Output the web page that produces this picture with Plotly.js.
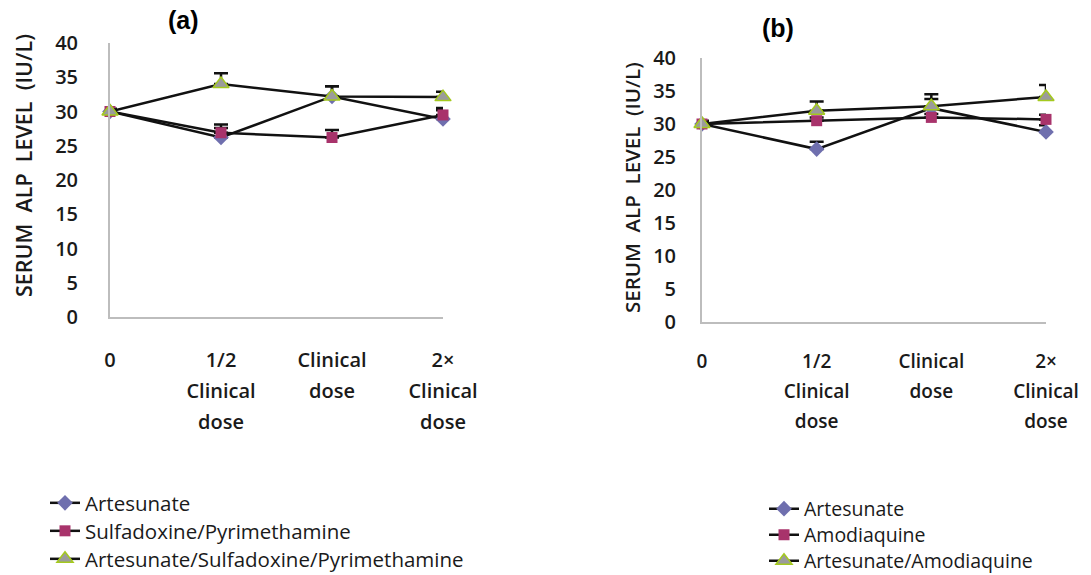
<!DOCTYPE html>
<html>
<head>
<meta charset="utf-8">
<script src="https://cdn.plot.ly/plotly-3.0.1.min.js"></script>
<style>html,body{margin:0;padding:0;background:#fff;}#chart{width:1091px;height:575px;}</style>
</head>
<body>
<div id="chart"></div>
<script>
// ---- data ----
const categories = ['0', '1/2<br>Clinical<br>dose', 'Clinical<br>dose', '2×<br>Clinical<br>dose'];

// Panel (a)
const namesA = ['Artesunate', 'Sulfadoxine/Pyrimethamine', 'Artesunate/Sulfadoxine/Pyrimethamine'];
const artesunateA = [30, 26.2, 32.2, 28.9];
const artesunateErrA = [0.4, 1.4, 1.5, 1.3];
const spA = [30, 26.9, 26.2, 29.5];
const spErrA = [0.3, 1.2, 1.1, 1.0];
const aspA = [30, 34.0, 32.2, 32.1];
const aspErrA = [0.3, 1.6, 1.5, 0.8];

// Panel (b)
const namesB = ['Artesunate', 'Amodiaquine', 'Artesunate/Amodiaquine'];
const artesunateB = [30, 26.2, 32.4, 28.8];
const artesunateErrB = [0.3, 1.1, 1.4, 1.0];
const amodiaquineB = [30, 30.5, 31.0, 30.7];
const amodiaquineErrB = [0.5, 0.5, 0.5, 0.7];
const aaB = [30, 32.0, 32.7, 34.1];
const aaErrB = [0.3, 1.4, 1.8, 1.8];

const yTicks = [0, 5, 10, 15, 20, 25, 30, 35, 40];
const yTitle = 'SERUM  ALP  LEVEL  (IU/L)';

// ---- styles ----
const FONT = '"Open Sans", Lato, sans-serif';
const markerStyles = [
  {symbol: 'diamond', size: 12, color: '#6f6fae', line: {width: 0}},
  {symbol: 'square', size: 11, color: '#a8336b', line: {width: 0}},
  {symbol: 'triangle-up', size: 14, color: '#9b9b9b', line: {width: 1.5, color: '#a4c91e'}}
];

function mk(y, err, name, idx, xa, ya, leg) {
  return {
    type: 'scatter', mode: 'lines+markers',
    x: categories, y: y, name: name,
    xaxis: xa, yaxis: ya, legend: leg,
    line: {color: '#111', width: 2.5},
    marker: markerStyles[idx],
    cliponaxis: false,
    error_y: {type: 'data', symmetric: false, array: err, arrayminus: err.map(() => 0),
              color: '#111', thickness: 2.5, width: 7}
  };
}

const data = [
  mk(artesunateA, artesunateErrA, namesA[0], 0, 'x', 'y', 'legend'),
  mk(spA, spErrA, namesA[1], 1, 'x', 'y', 'legend2'),
  mk(aspA, aspErrA, namesA[2], 2, 'x', 'y', 'legend3'),
  mk(artesunateB, artesunateErrB, namesB[0], 0, 'x2', 'y2', 'legend4'),
  mk(amodiaquineB, amodiaquineErrB, namesB[1], 1, 'x2', 'y2', 'legend5'),
  mk(aaB, aaErrB, namesB[2], 2, 'x2', 'y2', 'legend6')
];

const W = 1091, H = 575;
function xaxis(d, anchor, tl, fs) {
  return {
    domain: d, anchor: anchor, type: 'category', range: [0, 3],
    showline: true, linecolor: '#bdbdbd', linewidth: 2,
    showgrid: false, zeroline: false,
    ticks: 'outside', ticklen: tl, tickcolor: 'rgba(0,0,0,0)',
    tickfont: {family: FONT, size: fs, color: '#1a1a1a', weight: 600},
    automargin: false, fixedrange: true
  };
}
function yaxis(d, anchor, tl) {
  return {
    domain: d, anchor: anchor, range: [0, 40],
    tickvals: yTicks, ticktext: yTicks.map(String),
    showline: true, linecolor: '#bdbdbd', linewidth: 2,
    showgrid: false, zeroline: false,
    ticks: 'outside', ticklen: tl, tickcolor: 'rgba(0,0,0,0)',
    tickfont: {family: FONT, size: 20, color: '#1a1a1a', weight: 600},
    automargin: false, fixedrange: true
  };
}
function leg(xpx, ypx, fs) {
  return {x: xpx / W, y: 1 - ypx / H, xanchor: 'left', yanchor: 'middle',
          font: {family: FONT, size: fs, color: '#1a1a1a'}, tracegroupgap: 0,
          bgcolor: 'rgba(0,0,0,0)', itemwidth: 30};
}

const layout = {
  width: W, height: H,
  margin: {l: 0, r: 0, t: 0, b: 0, autoexpand: false},
  paper_bgcolor: '#fff', plot_bgcolor: '#fff',
  showlegend: true,
  xaxis: xaxis([110 / W, 443 / W], 'y', 24, 20),
  yaxis: yaxis([(H - 317) / H, (H - 43) / H], 'x', 26),
  xaxis2: xaxis([702 / W, 1046 / W], 'y2', 21, 19),
  yaxis2: yaxis([(H - 322) / H, (H - 58) / H], 'x2', 20),
  legend: leg(45, 503, 20.5),
  legend2: leg(45, 531, 20.5),
  legend3: leg(45, 559, 20.5),
  legend4: leg(764, 509, 19.5),
  legend5: leg(764, 535, 19.5),
  legend6: leg(764, 561, 19.5),
  annotations: [
    {text: '<b>(a)</b>', xref: 'paper', yref: 'paper', x: 183 / W, y: 1 - 20 / H,
     xanchor: 'center', yanchor: 'middle', showarrow: false,
     font: {family: 'Liberation Sans, Arial, sans-serif', size: 25, color: '#000'}},
    {text: '<b>(b)</b>', xref: 'paper', yref: 'paper', x: 778 / W, y: 1 - 28 / H,
     xanchor: 'center', yanchor: 'middle', showarrow: false,
     font: {family: 'Liberation Sans, Arial, sans-serif', size: 25, color: '#000'}},
    {text: yTitle, xref: 'paper', yref: 'paper', x: 23 / W, y: 1 - 166 / H,
     xanchor: 'center', yanchor: 'middle', textangle: -90, showarrow: false,
     font: {family: FONT, size: 21.5, color: '#1a1a1a', weight: 600}},
    {text: yTitle, xref: 'paper', yref: 'paper', x: 632 / W, y: 1 - 188 / H,
     xanchor: 'center', yanchor: 'middle', textangle: -90, showarrow: false,
     font: {family: FONT, size: 20.5, color: '#1a1a1a', weight: 600}}
  ]
};

Plotly.newPlot('chart', data, layout, {staticPlot: true, displayModeBar: false}).then(function (gd) {
  // widen the line spacing of the multi-line category labels (Excel-like leading)
  function spread(sel, k) {
    gd.querySelectorAll(sel + ' text tspan.line').forEach(function (t) {
      var dy = t.getAttribute('dy');
      if (dy && /em$/.test(dy)) {
        var v = parseFloat(dy);
        if (v !== 0) t.setAttribute('dy', (v * k).toFixed(3) + 'em');
      }
    });
  }
  spread('.xtick', 1.19);
  spread('.x2tick', 1.21);
});
</script>
</body>
</html>
